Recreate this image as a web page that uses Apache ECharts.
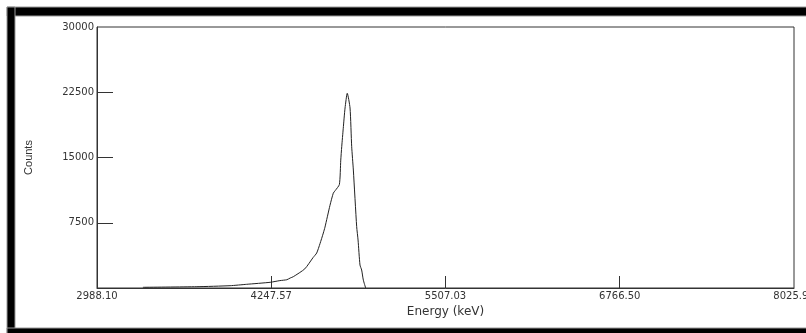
<!DOCTYPE html>
<html>
<head>
<meta charset="utf-8">
<script src="https://cdn.jsdelivr.net/npm/echarts@6/dist/echarts.min.js"></script>
<style>
	html, body { margin: 0; padding: 0; background: #fff; }
	#chart { width: 806px; height: 333px; }
</style>
</head>
<body>
<div id="chart"></div>
<script>
	// spectrum
	var energy = [3320, 3710, 3950, 4070, 4240, 4310, 4360, 4385, 4407, 4490, 4550, 4576, 4600, 4624, 4636, 4672, 4696, 4710, 4740, 4750, 4757, 4768, 4781, 4797, 4817, 4829, 4841, 4865, 4875, 4889, 4901, 4913, 4930];
	var counts = [80, 150, 265, 425, 655, 850, 950, 1150, 1300, 2200, 3500, 4020, 5100, 6320, 7000, 9500, 10900, 11200, 11900, 14700, 16240, 18360, 20690, 22380, 20690, 16240, 13560, 7050, 5520, 2640, 2070, 920, 0];
	var xTicks = [2988.10, 4247.57, 5507.03, 6766.50, 8025.97];
	var yTicks = [7500, 15000, 22500, 30000];

	var chart = echarts.init(document.getElementById('chart'));
	var seriesData = energy.map(function (e, i) { return [e, counts[i]]; });

	var option = {
		animation: false,
		backgroundColor: '#fff',
		grid: {
			left: 97,
			right: 12,
			top: 27,
			bottom: 45,
			containLabel: false,
			outerBoundsMode: 'none',
			show: true,
			borderColor: '#333',
			borderWidth: 1
		},
		xAxis: {
			type: 'value',
			min: 2988.10,
			max: 8025.97,
			name: 'Energy (keV)',
			nameLocation: 'middle',
			nameGap: 18,
			nameTextStyle: { color: '#333', fontFamily: 'DejaVu Sans', fontSize: 12 },
			axisLine: { show: true, lineStyle: { color: '#333', width: 1 } },
			axisTick: {
				show: true,
				inside: true,
				length: 12,
				customValues: xTicks.slice(1, 4),
				lineStyle: { color: '#333' }
			},
			axisLabel: {
				customValues: xTicks,
				color: '#333',
				fontFamily: 'DejaVu Sans',
				fontSize: 10,
				margin: 3,
				showMinLabel: true,
				showMaxLabel: true,
				hideOverlap: false,
				formatter: function (v) { return v.toFixed(2); }
			},
			splitLine: { show: false }
		},
		yAxis: {
			type: 'value',
			min: 0,
			max: 30000,
			interval: 7500,
			name: 'Counts',
			nameLocation: 'middle',
			nameGap: 63,
			nameTextStyle: { color: '#333', fontFamily: 'Liberation Sans', fontSize: 11 },
			axisLine: { show: true, lineStyle: { color: '#333', width: 1 } },
			axisTick: {
				show: true,
				inside: true,
				length: 16,
				customValues: yTicks.slice(0, 3),
				lineStyle: { color: '#333' }
			},
			axisLabel: {
				customValues: yTicks,
				color: '#333',
				fontFamily: 'DejaVu Sans',
				fontSize: 10,
				margin: 3,
				formatter: function (v) { return String(v); }
			},
			splitLine: { show: false }
		},
		series: [{
			type: 'line',
			data: seriesData,
			symbol: 'none',
			smooth: 0.2,
			lineStyle: { color: '#222', width: 1 }
		}],
		graphic: [
			{ type: 'rect', shape: { x: 7, y: 7, width: 806, height: 9 }, style: { fill: '#000', stroke: '#999', lineWidth: 1 }, silent: true },
			{ type: 'rect', shape: { x: 7, y: 7, width: 8, height: 330 }, style: { fill: '#000', stroke: '#999', lineWidth: 1 }, silent: true },
			{ type: 'rect', shape: { x: 7, y: 328, width: 806, height: 9 }, style: { fill: '#000', stroke: '#999', lineWidth: 1 }, silent: true }
		]
	};
	chart.clear();
	chart.setOption(option);
</script>
</body>
</html>
